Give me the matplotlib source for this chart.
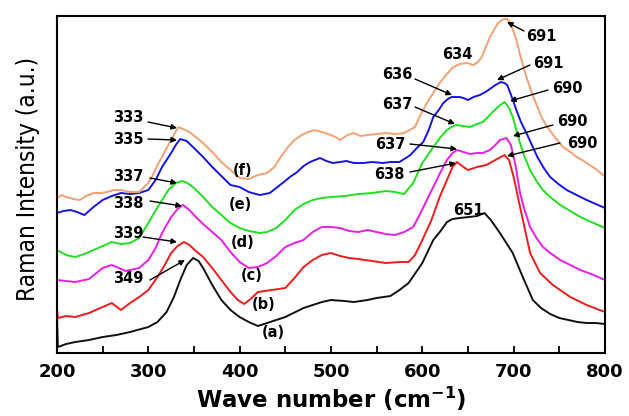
import numpy as np
import matplotlib
matplotlib.use("Agg")
import matplotlib.pyplot as plt

# Raman spectra, arbitrary intensity units (stacked as recorded)
wn_a = [200, 201, 210, 220, 235, 250, 265, 280, 300, 310, 320, 328, 335, 342, 349, 355, 360, 370, 380, 390,
        400, 410, 420, 430, 450, 470, 490, 500, 515, 525, 540, 550, 565, 575, 585, 600, 612, 620, 627, 633,
        641, 651, 660, 668, 675, 685, 692, 699, 710, 721, 730, 740, 750, 760, 770, 780, 790, 800]
int_a = [36, 6, 9, 11, 13, 16, 18, 21, 26, 31, 41, 56, 73, 88, 95, 92, 85, 68, 53, 43,
         36, 31, 27, 30, 36, 45, 51, 53, 52, 51, 53, 55, 57, 63, 70, 90, 113, 122, 131, 134,
         135, 136, 137, 140, 133, 120, 110, 100, 76, 53, 45, 39, 35, 33, 31, 30, 30, 29]

wn_b = [200, 201, 210, 220, 235, 250, 260, 270, 280, 290, 300, 310, 318, 325, 332, 339, 345, 352, 360, 370,
        380, 390, 398, 405, 412, 420, 435, 450, 460, 470, 480, 490, 500, 510, 520, 530, 545, 560, 575, 585,
        592, 600, 610, 619, 627, 633, 638, 645, 650, 660, 670, 680, 690, 695, 700, 707, 718, 729, 743, 762,
        780, 800]
int_b = [45, 35, 37, 36, 40, 46, 50, 43, 50, 56, 63, 76, 88, 100, 107, 111, 108, 102, 96, 85,
         73, 61, 53, 49, 54, 61, 63, 65, 75, 86, 93, 98, 100, 97, 95, 94, 92, 90, 91, 91,
         98, 113, 133, 156, 173, 186, 191, 186, 183, 186, 188, 193, 198, 193, 176, 146, 100, 80, 68, 56,
         48, 41]

wn_c = [200, 210, 220, 235, 250, 260, 268, 275, 290, 300, 308, 315, 325, 332, 338, 345, 352, 360, 370, 380,
        390, 400, 410, 420, 430, 440, 450, 460, 470, 480, 490, 500, 510, 520, 530, 540, 550, 560, 570, 580,
        590, 597, 605, 612, 620, 627, 633, 638, 645, 652, 660, 666, 674, 680, 685, 692, 697, 702, 707, 712,
        718, 725, 732, 740, 751, 762, 773, 785, 800]
int_c = [73, 72, 71, 74, 85, 88, 85, 82, 85, 93, 105, 120, 136, 144, 148, 143, 136, 129, 121, 113,
         101, 91, 85, 86, 90, 97, 106, 110, 113, 121, 126, 126, 125, 122, 121, 123, 121, 119, 118, 121,
         126, 138, 153, 166, 181, 193, 200, 203, 201, 199, 200, 200, 203, 208, 213, 215, 208, 188, 160, 143,
         126, 115, 106, 100, 93, 88, 83, 79, 73]

wn_d = [200, 210, 220, 230, 240, 250, 260, 270, 280, 290, 300, 307, 315, 322, 330, 337, 343, 350, 360, 370,
        380, 390, 400, 410, 422, 430, 440, 450, 460, 470, 480, 490, 500, 515, 530, 545, 560, 570, 580, 590,
        600, 606, 612, 620, 627, 632, 637, 645, 652, 660, 666, 672, 677, 684, 690, 695, 699, 703, 707, 712,
        718, 725, 732, 740, 751, 762, 773, 785, 800]
int_d = [103, 98, 96, 99, 103, 107, 111, 109, 110, 115, 130, 141, 153, 163, 170, 172, 170, 165, 156, 146,
         138, 130, 125, 122, 120, 121, 125, 133, 143, 149, 153, 155, 156, 157, 159, 160, 162, 161, 159, 170,
         190, 198, 206, 216, 223, 226, 228, 227, 226, 229, 231, 236, 241, 247, 251, 245, 236, 223, 210, 196,
         183, 172, 163, 156, 148, 142, 136, 131, 125]

wn_e = [200, 207, 215, 222, 230, 240, 250, 260, 270, 280, 290, 300, 308, 315, 320, 325, 330, 335, 342, 350,
        360, 370, 380, 390, 400, 410, 422, 433, 440, 447, 455, 463, 470, 477, 488, 495, 502, 510, 517, 525,
        535, 545, 557, 565, 575, 587, 594, 601, 607, 612, 618, 623, 628, 632, 637, 641, 645, 650, 656, 663,
        669, 674, 680, 686, 690, 693, 698, 703, 708, 714, 720, 726, 733, 740, 749, 758, 769, 780, 790, 800]
int_e = [140, 142, 143, 141, 138, 146, 153, 157, 160, 159, 160, 163, 173, 186, 193, 200, 208, 214, 212, 205,
         196, 186, 177, 168, 166, 161, 158, 160, 165, 170, 176, 181, 187, 191, 195, 192, 190, 191, 192, 190,
         190, 191, 190, 191, 191, 198, 205, 211, 223, 236, 243, 250, 254, 256, 256, 256, 255, 253, 256, 258,
         261, 264, 268, 271, 270, 268, 256, 243, 231, 220, 208, 196, 185, 176, 169, 163, 158, 153, 149, 145]

wn_f = [200, 205, 210, 218, 225, 232, 240, 248, 255, 262, 270, 280, 290, 300, 305, 310, 315, 320, 325, 329,
        333, 338, 345, 352, 360, 370, 380, 390, 400, 410, 420, 430, 438, 445, 452, 460, 468, 475, 482, 490,
        497, 505, 510, 518, 525, 532, 540, 550, 560, 570, 580, 586, 592, 598, 605, 612, 619, 626, 634, 641,
        649, 656, 661, 665, 670, 674, 679, 683, 687, 690, 693, 696, 700, 703, 708, 714, 720, 726, 731, 737,
        745, 754, 762, 769, 775, 780, 790, 798, 800]
int_f = [155, 158, 156, 154, 153, 157, 160, 160, 161, 163, 163, 161, 161, 170, 178, 188, 196, 205, 213, 220,
         226, 224, 221, 216, 210, 201, 191, 183, 175, 174, 178, 180, 186, 196, 205, 213, 218, 221, 223, 221,
         219, 216, 213, 218, 220, 217, 218, 219, 220, 219, 220, 223, 226, 238, 250, 260, 270, 278, 286, 289,
         290, 288, 291, 296, 307, 316, 324, 330, 333, 334, 334, 331, 321, 313, 295, 276, 260, 246, 235, 226,
         216, 206, 201, 196, 193, 190, 184, 178, 177]

series = [
    (wn_a, int_a, "#111111"),
    (wn_b, int_b, "#ee1c1c"),
    (wn_c, int_c, "#e81ee8"),
    (wn_d, int_d, "#1fe01f"),
    (wn_e, int_e, "#1414e6"),
    (wn_f, int_f, "#f4a072"),
]

sample_labels = ["(a)", "(b)", "(c)", "(d)", "(e)", "(f)"]
sample_label_xy = [(436.5, 21), (426.6, 49), (413.5, 78), (403.6, 111), (400.4, 149), (403.6, 183)]

# peak labels: text, text position, arrow tail, arrow tip
peak_labels = ["333", "335", "337", "338", "339", "349",
               "636", "637", "637", "638",
               "691", "691", "690", "690", "690"]
peak_text_xy = [(277.7, 236), (277.7, 214), (277.7, 177), (277.7, 150), (277.7, 120), (277.7, 75),
                (572.3, 279), (572.3, 249), (564.6, 209), (563.5, 179),
                (729.9, 317), (737.6, 290), (758.4, 265), (763.9, 232), (774.8, 210)]
arrow_tail = [(299.6, 231), (299.6, 214), (301.8, 175), (301.8, 152), (294.2, 116), (301.8, 73),
              (592.0, 274), (592.0, 246), (586.5, 209), (586.5, 181),
              (711.3, 322), (717.9, 288), (737.6, 263), (743.0, 228), (750.7, 210)]
arrow_tip = [(331.4, 225), (331.4, 213), (331.4, 170), (336.9, 147), (331.4, 111), (340.1, 93),
             (632.5, 258), (635.8, 229), (638.0, 204), (636.9, 190),
             (692.7, 331), (681.8, 273), (696.0, 252), (699.3, 217), (692.7, 197)]

# labels without arrows
plain_labels = ["634", "651"]
plain_label_xy = [(638, 299), (650, 143)]

fig = plt.figure(figsize=(6.29, 4.16), dpi=100)
ax = fig.add_axes([0.0906, 0.1514, 0.8712, 0.8101])

for x, y, c in series:
    ax.plot(x, y, color=c, lw=1.4)

for lab, (x, y) in zip(sample_labels, sample_label_xy):
    ax.text(x, y, lab, fontsize=10.5, fontweight="bold", ha="center", va="center")

for lab, (tx, ty), tail, tip in zip(peak_labels, peak_text_xy, arrow_tail, arrow_tip):
    ax.text(tx, ty, lab, fontsize=10.5, fontweight="bold", ha="center", va="center")
    ax.annotate("", xy=tip, xytext=tail,
                arrowprops=dict(arrowstyle="-|>", color="k", lw=1.0,
                                mutation_scale=8, shrinkA=0, shrinkB=0))

for lab, (x, y) in zip(plain_labels, plain_label_xy):
    ax.text(x, y, lab, fontsize=10.5, fontweight="bold", ha="center", va="center")

ax.set_xlim(200, 800)
ax.set_ylim(0, 337)
ax.set_xticks([200, 300, 400, 500, 600, 700, 800])
ax.set_xticks([250, 350, 450, 550, 650, 750], minor=True)
ax.set_yticks([])
ax.tick_params(axis="x", which="both", direction="in", length=5, width=1.3, pad=7)
for t in ax.get_xticklabels():
    t.set_fontsize(13)
    t.set_fontweight("bold")
for s in ax.spines.values():
    s.set_linewidth(1.5)

ax.set_xlabel(r"Wave number (cm$^{\mathbf{-1}}$)", fontsize=16.5, fontweight="bold", labelpad=3)
fig.text(28 / 629, 1 - 179 / 416, "Raman Intensity (a.u.)", rotation=90,
         ha="center", va="center", fontsize=17.5, fontstretch="condensed",
         family=["DejaVu Sans"])

fig.savefig("out.png", dpi=100)
